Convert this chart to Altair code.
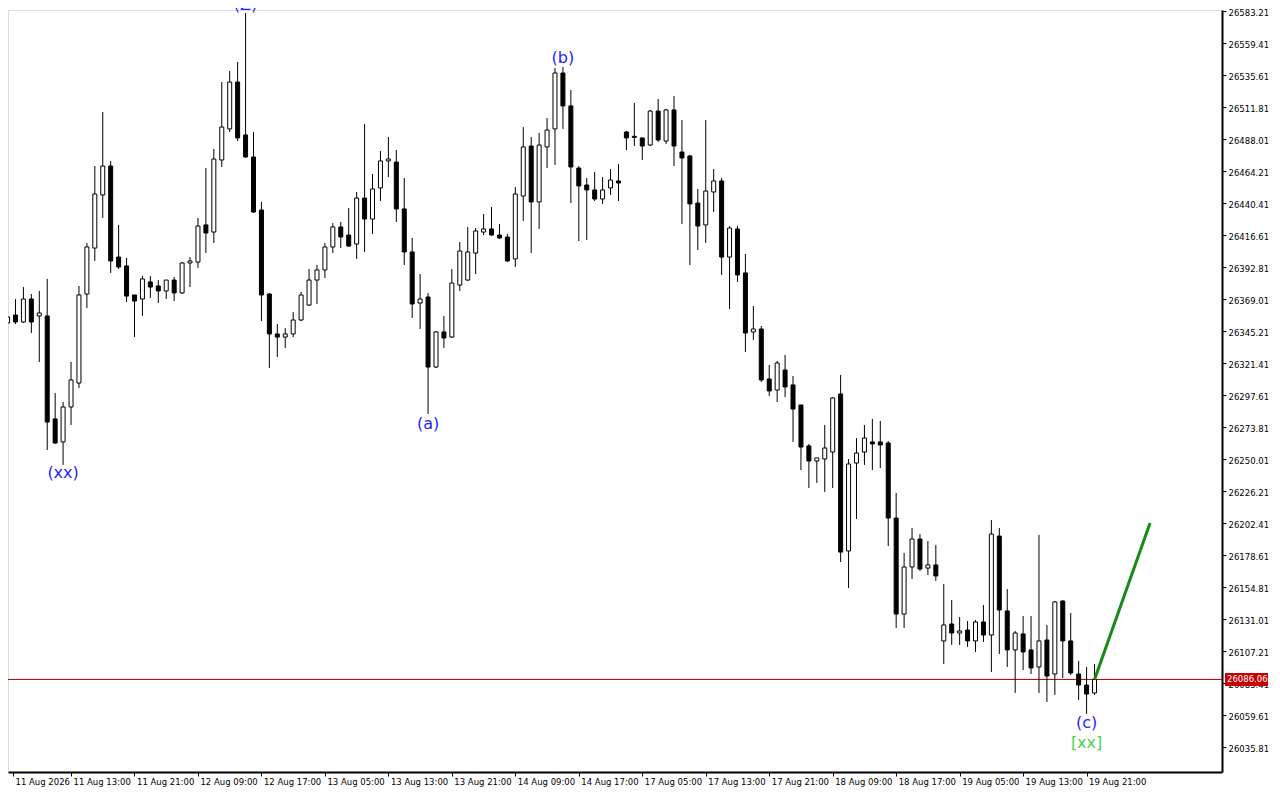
import altair as alt
import pandas as pd

# ---- hourly OHLC ----
opens = [26351.2, 26357.1, 26351.9, 26369.0, 26356.4, 26356.4, 26279.8, 26262.7, 26288.7, 26306.5,
         26372.7, 26406.9, 26446.4, 26467.9, 26400.2, 26393.6, 26372.0, 26369.0, 26381.7, 26378.7,
         26375.0, 26383.1, 26373.5, 26395.8, 26396.5, 26424.1, 26418.8, 26472.4, 26495.5, 26530.4,
         26491.0, 26474.6, 26435.2, 26372.7, 26343.0, 26340.7, 26343.0, 26353.4, 26364.5, 26383.1,
         26390.6, 26407.7, 26422.6, 26416.6, 26409.9, 26444.1, 26428.5, 26451.6, 26471.7, 26470.9,
         26436.0, 26404.0, 26366.0, 26370.5, 26318.4, 26344.5, 26340.7, 26379.4, 26383.1, 26403.2,
         26418.8, 26421.1, 26416.6, 26415.1, 26398.8, 26445.6, 26482.8, 26441.2, 26482.1, 26495.5,
         26537.1, 26512.6, 26466.4, 26453.8, 26450.1, 26443.4, 26451.6, 26456.8, 26493.2, 26490.0,
         26488.8, 26483.5, 26508.8, 26486.5, 26509.6, 26478.3, 26475.4, 26440.4, 26424.1, 26448.6,
         26456.8, 26400.2, 26421.1, 26388.4, 26344.5, 26346.7, 26309.5, 26301.3, 26316.2, 26305.1,
         26290.2, 26259.7, 26248.5, 26250.0, 26255.2, 26298.4, 26181.6, 26247.0, 26255.2, 26262.7,
         26262.7, 26261.9, 26206.1, 26134.7, 26169.7, 26190.5, 26168.9, 26171.2, 26114.7, 26127.3,
         26120.6, 26122.8, 26114.7, 26128.8, 26119.1, 26192.7, 26137.0, 26108.0, 26119.9, 26108.0,
         26095.3, 26115.4, 26090.1, 26144.4, 26114.7, 26090.1, 26081.9, 26076.0]
highs = [26357.1, 26369.0, 26377.9, 26372.7, 26375.0, 26383.9, 26299.1, 26292.4, 26322.2, 26378.7,
         26410.7, 26467.9, 26508.1, 26471.7, 26424.1, 26399.5, 26372.0, 26386.1, 26386.1, 26383.1,
         26383.1, 26385.4, 26396.5, 26400.2, 26429.3, 26466.4, 26480.6, 26530.4, 26538.6, 26545.3,
         26581.7, 26493.2, 26441.2, 26373.5, 26350.4, 26347.4, 26359.3, 26374.2, 26391.3, 26394.3,
         26410.7, 26425.5, 26426.3, 26436.7, 26448.6, 26499.2, 26462.0, 26479.1, 26489.5, 26479.8,
         26459.0, 26414.4, 26387.6, 26373.5, 26345.2, 26356.4, 26391.3, 26411.4, 26422.6, 26421.8,
         26432.2, 26437.4, 26424.8, 26417.4, 26452.3, 26496.9, 26489.5, 26492.5, 26503.6, 26540.8,
         26541.6, 26524.5, 26467.9, 26459.0, 26463.5, 26459.7, 26465.7, 26469.4, 26494.0, 26514.8,
         26488.8, 26509.6, 26517.8, 26510.3, 26520.0, 26502.1, 26476.1, 26450.8, 26502.1, 26465.7,
         26459.0, 26423.3, 26423.3, 26402.5, 26363.8, 26348.9, 26319.9, 26322.9, 26327.4, 26311.7,
         26290.2, 26261.2, 26250.8, 26275.3, 26296.1, 26312.5, 26250.0, 26265.6, 26275.3, 26279.8,
         26278.3, 26263.4, 26224.7, 26180.1, 26198.7, 26194.2, 26189.0, 26186.1, 26157.0, 26145.1,
         26132.5, 26129.5, 26130.3, 26141.4, 26204.6, 26198.7, 26153.3, 26122.1, 26133.2, 26133.2,
         26193.5, 26126.6, 26144.4, 26145.1, 26135.5, 26099.8, 26095.3, 26097.5]
lows = [26349.7, 26350.4, 26351.2, 26343.7, 26322.2, 26256.7, 26261.2, 26245.6, 26275.3, 26302.8,
        26362.3, 26397.3, 26429.3, 26388.4, 26391.3, 26366.8, 26340.7, 26356.4, 26369.8, 26366.0,
        26369.0, 26367.5, 26372.7, 26377.9, 26392.1, 26403.2, 26410.7, 26467.2, 26493.2, 26486.5,
        26474.0, 26433.0, 26352.6, 26317.7, 26325.9, 26332.6, 26340.7, 26352.6, 26363.8, 26365.3,
        26384.6, 26403.2, 26406.9, 26407.7, 26398.8, 26404.0, 26417.4, 26441.9, 26459.7, 26426.3,
        26394.3, 26354.9, 26346.7, 26283.5, 26317.7, 26332.6, 26340.0, 26375.0, 26382.4, 26387.6,
        26416.6, 26415.9, 26413.6, 26396.5, 26392.8, 26427.0, 26403.2, 26421.1, 26466.4, 26468.7,
        26495.5, 26440.4, 26412.1, 26412.9, 26441.9, 26439.7, 26446.4, 26441.9, 26479.8, 26482.8,
        26472.4, 26482.8, 26485.8, 26484.3, 26467.9, 26424.8, 26394.3, 26405.5, 26410.7, 26433.7,
        26386.9, 26361.6, 26381.7, 26329.6, 26338.5, 26307.3, 26296.9, 26292.4, 26296.1, 26262.7,
        26241.8, 26228.4, 26232.2, 26225.5, 26228.4, 26173.4, 26154.1, 26205.4, 26245.6, 26241.8,
        26243.3, 26185.3, 26124.3, 26124.3, 26160.8, 26166.7, 26163.7, 26159.3, 26097.5, 26111.7,
        26111.7, 26110.2, 26106.5, 26113.9, 26091.6, 26105.0, 26095.3, 26076.0, 26093.1, 26090.1,
        26076.0, 26069.3, 26074.5, 26087.1, 26089.4, 26070.8, 26060.4, 26074.5]
closes = [26355.6, 26351.9, 26369.0, 26351.9, 26358.6, 26277.5, 26261.9, 26288.7, 26308.8, 26372.0,
          26407.7, 26447.1, 26467.9, 26397.3, 26392.8, 26371.2, 26367.5, 26383.9, 26377.9, 26375.0,
          26383.1, 26373.5, 26395.8, 26397.3, 26423.3, 26418.1, 26473.1, 26496.9, 26530.4, 26488.8,
          26474.6, 26433.7, 26372.0, 26343.0, 26340.7, 26343.0, 26353.4, 26372.0, 26383.1, 26390.6,
          26407.7, 26422.6, 26415.1, 26408.4, 26444.1, 26428.5, 26450.8, 26471.7, 26473.1, 26436.0,
          26404.0, 26365.3, 26369.0, 26318.4, 26344.5, 26340.0, 26380.9, 26404.7, 26404.0, 26419.6,
          26421.1, 26416.6, 26414.4, 26397.3, 26447.1, 26482.1, 26441.2, 26483.5, 26494.7, 26537.1,
          26512.6, 26467.2, 26453.1, 26450.1, 26443.4, 26450.1, 26457.5, 26455.3, 26488.8, 26489.2,
          26482.8, 26508.8, 26487.3, 26509.6, 26482.8, 26473.9, 26439.7, 26423.3, 26449.3, 26456.8,
          26400.2, 26421.8, 26386.9, 26343.7, 26346.7, 26308.8, 26300.6, 26321.4, 26303.6, 26287.2,
          26258.9, 26248.5, 26250.8, 26258.2, 26295.4, 26180.8, 26246.3, 26254.5, 26265.6, 26261.2,
          26260.4, 26206.1, 26134.7, 26169.7, 26190.5, 26168.2, 26171.2, 26163.0, 26126.6, 26120.6,
          26122.1, 26114.7, 26128.8, 26119.1, 26194.2, 26137.7, 26108.0, 26120.6, 26106.5, 26094.6,
          26114.7, 26088.6, 26143.7, 26114.7, 26090.9, 26081.9, 26075.2, 26086.06]
bar_index = list(range(len(opens)))

time_labels = ["11 Aug 2026", "11 Aug 13:00", "11 Aug 21:00", "12 Aug 09:00", "12 Aug 17:00",
               "13 Aug 05:00", "13 Aug 13:00", "13 Aug 21:00", "14 Aug 09:00", "14 Aug 17:00",
               "17 Aug 05:00", "17 Aug 13:00", "17 Aug 21:00", "18 Aug 09:00", "18 Aug 17:00",
               "19 Aug 05:00", "19 Aug 13:00", "19 Aug 21:00"]
price_ticks = [26583.21, 26559.41, 26535.61, 26511.81, 26488.01, 26464.21, 26440.41, 26416.61,
               26392.81, 26369.01, 26345.21, 26321.41, 26297.61, 26273.81, 26250.01, 26226.21,
               26202.41, 26178.61, 26154.81, 26131.01, 26107.21, 26083.41, 26059.61, 26035.81]

wave_index = [30, 7, 53, 70, 136]
wave_price = [26587.7, 26239.6, 26276.0, 26548.2, 26053.7]
wave_text = ["(Z)", "(xx)", "(a)", "(b)", "(c)"]
outer_index = [136]
outer_price = [26038.8]
outer_text = ["[xx]"]

forecast_index = [137, 144]
forecast_price = [26086.06, 26202.41]
last_price = 26086.06

candles = pd.DataFrame({"i": bar_index, "open": opens, "high": highs, "low": lows, "close": closes})
waves = pd.DataFrame({"i": wave_index, "price": wave_price, "label": wave_text})
outer = pd.DataFrame({"i": outer_index, "price": outer_price, "label": outer_text})
forecast = pd.DataFrame({"i": forecast_index, "price": forecast_price})
last = pd.DataFrame({"price": [last_price], "label": [f"{last_price:.2f}"]})

FONT = "DejaVu Sans"
x_min, x_max = 0.6875, 152.4375
x_scale = alt.Scale(domain=[x_min, x_max], nice=False, zero=False)
y_scale = alt.Scale(domain=[26017.215, 26583.95], nice=False, zero=False)

label_array = "[" + ",".join(f"'{s}'" for s in time_labels) + "]"
x_axis = alt.Axis(values=[x_min] + [8 * j for j in range(1, len(time_labels))],
                  labelExpr=label_array + "[round(datum.value / 8)]",
                  title=None, grid=False, orient="bottom",
                  labelAlign="left", labelOffset=2, labelPadding=1,
                  labelFont=FONT, labelFontSize=8.5, labelColor="black",
                  tickSize=4, tickColor="black", domainColor="black", domainWidth=2,
                  labelOverlap=False, labelFlush=False, labelBound=False)
y_axis = alt.Axis(values=price_ticks, format=".2f", title=None, grid=False, orient="right",
                  labelPadding=2, labelOffset=1.5, labelFont=FONT, labelFontSize=8.5,
                  labelColor="black", tickSize=4, tickColor="black",
                  domainColor="black", domainWidth=2,
                  labelOverlap=False, labelFlush=False, labelBound=False)


def X(field):
    return alt.X(field, type="quantitative", scale=x_scale, axis=x_axis)


def Y(field):
    return alt.Y(field, type="quantitative", scale=y_scale, axis=y_axis)


price_line = alt.Chart(last).mark_rule(color="#a80000", strokeWidth=1).encode(y=Y("price"))

wicks = alt.Chart(candles).mark_rule(color="black", strokeWidth=1, clip=True).encode(
    x=X("i"), y=Y("low"), y2="high")

bodies = alt.Chart(candles).mark_bar(size=4, stroke="black", strokeWidth=1, clip=True).encode(
    x=X("i"), y=Y("open"), y2="close",
    fill=alt.condition("datum.close >= datum.open", alt.value("white"), alt.value("black")))

forecast_line = alt.Chart(forecast).mark_line(color="#158a15", strokeWidth=3).encode(
    x=X("i"), y=Y("price"))

wave_labels = alt.Chart(waves).mark_text(font=FONT, fontSize=16, color="#2323ff",
                                         baseline="middle", align="center").encode(
    x=X("i"), y=Y("price"), text="label")

outer_labels = alt.Chart(outer).mark_text(font=FONT, fontSize=16, color="#4cd24c",
                                          baseline="middle", align="center").encode(
    x=X("i"), y=Y("price"), text="label")

tag_bg = alt.Chart(last).mark_rule(color="#c80000", strokeWidth=13, strokeCap="butt").encode(
    x=alt.value(1217), x2=alt.value(1260), y=Y("price"))
tag_text = alt.Chart(last).mark_text(font=FONT, fontSize=8.5, color="white",
                                     align="left", baseline="middle").encode(
    x=alt.value(1219), y=Y("price"), text="label")

chart = alt.layer(price_line, wicks, bodies, forecast_line, wave_labels, outer_labels,
                  tag_bg, tag_text).properties(
    width=1214, height=762,
    autosize=alt.AutoSizeParams(type="none"),
    padding={"left": 0, "top": 2, "right": 50, "bottom": 16},
).configure_view(stroke="black", strokeWidth=1).configure(background="white")

chart.save("out.html", embed_options={"renderer": "svg", "actions": False})
